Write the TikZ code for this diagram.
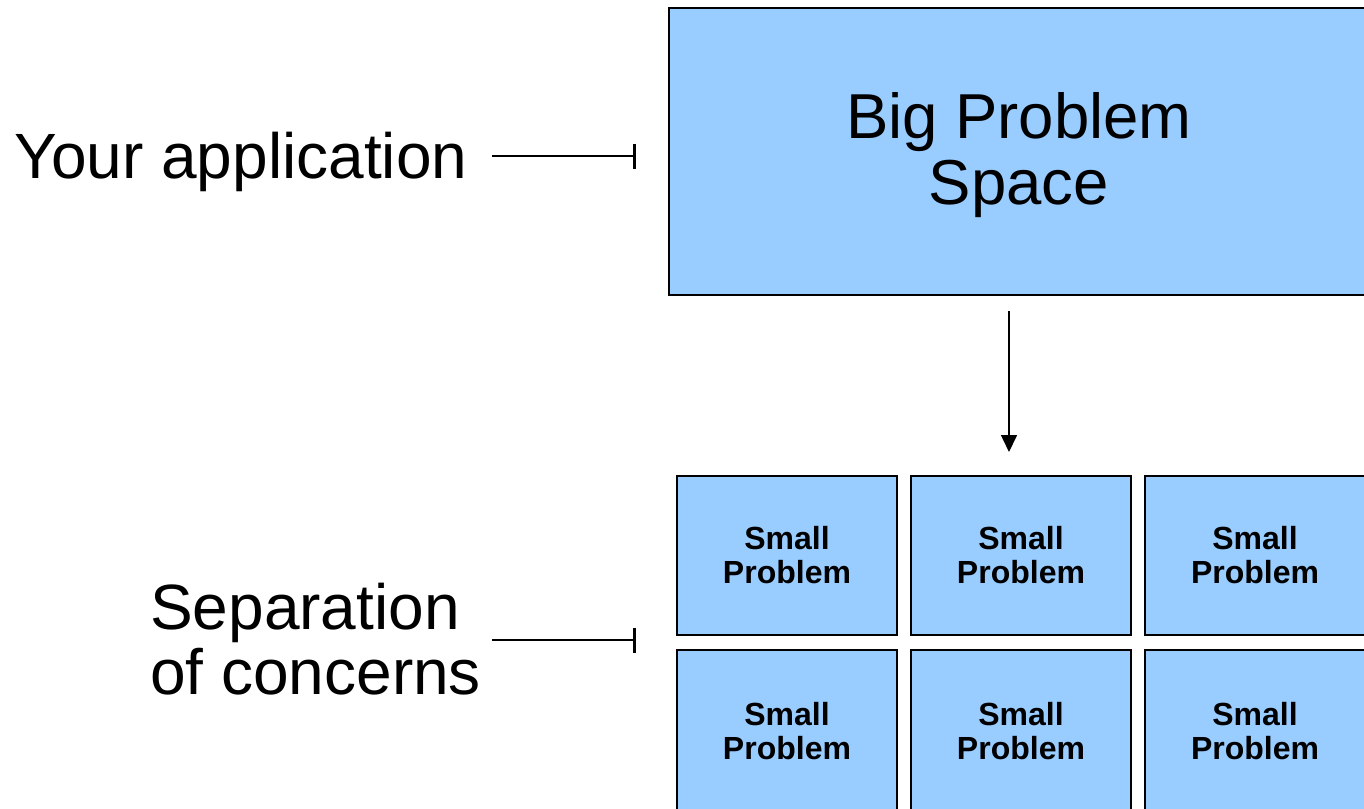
\documentclass[tikz,border=0pt]{standalone}
\usepackage{fontspec}
\setmainfont{Liberation Sans}
\usetikzlibrary{arrows.meta,calc}
\definecolor{boxblue}{HTML}{99CCFF}
\tikzset{
 prob/.style={draw=black, line width=2pt, fill=boxblue, inner sep=0pt, align=center},
 bigbox/.style={prob, minimum width=700pt, minimum height=287pt, font=\fontsize{63.5}{66}\selectfont},
 smallbox/.style={prob, minimum width=220pt, minimum height=159pt, font=\fontsize{32}{34}\selectfont\bfseries},
 sidelabel/.style={inner sep=0pt, font=\fontsize{64}{65}\selectfont, align=left},
 conn/.style={line width=1.6pt},
 barend/.style={conn, -{Bar[width=25pt,line width=3pt]}},
 arr/.style={conn, -{Triangle[width=16pt,length=17pt]}}
}
\begin{document}
\begin{tikzpicture}[x=1pt,y=-1pt]
\useasboundingbox (0,0) rectangle (1364,808);
\node[bigbox] (bigp) at (1019,151.5) {\rule{0pt}{52.5pt}Big Problem\\Space};
\node[smallbox] (s11) at (787,555.5) {Small\\Problem};
\node[smallbox] (s12) at (1021,555.5) {Small\\Problem};
\node[smallbox] (s13) at (1255,555.5) {Small\\Problem};
\node[smallbox, minimum height=163pt] (s21) at (787,731) {\rule{0pt}{24pt}Small\\Problem};
\node[smallbox, minimum height=163pt] (s22) at (1021,731) {\rule{0pt}{24pt}Small\\Problem};
\node[smallbox, minimum height=163pt] (s23) at (1255,731) {\rule{0pt}{24pt}Small\\Problem};
\node[sidelabel, anchor=base west] (app) at (14,178) {Your application};
\node[sidelabel, anchor=west] (sep) at (150,639) {Separation\\of concerns};
\coordinate (append) at (636,156);
\coordinate (sepend) at (636,640);
\coordinate (appstart) at (492,156);
\coordinate (sepstart) at (492,640);
\draw[barend] (appstart) -- (append);
\draw[barend] (sepstart) -- (sepend);
\draw[arr] ([xshift=-10pt,yshift=-15pt]bigp.south) -- ([xshift=-12pt,yshift=23pt]s12.north);
\end{tikzpicture}
\end{document}
